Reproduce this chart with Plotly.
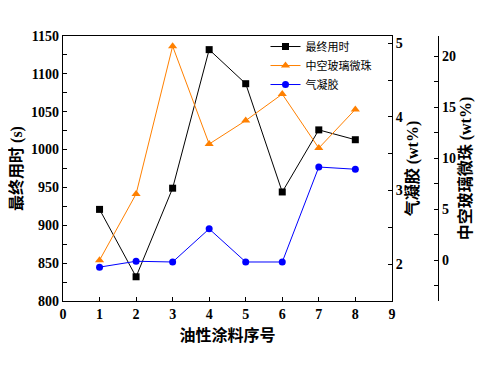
import plotly.graph_objects as go

x_idx = [1, 2, 3, 4, 5, 6, 7, 8]
final_time = [921, 832, 949, 1132, 1087, 944, 1026, 1013]
hollow_beads = [0.0, 6.5, 21.0, 11.4, 13.7, 16.3, 11.0, 14.8]
aerogel = [1.96, 2.04, 2.03, 2.48, 2.03, 2.03, 3.32, 3.29]

FONT = "Liberation Serif, Noto Sans CJK SC"
tickfont = dict(family="Liberation Serif", size=14, color="black", weight="bold")
titlefont = dict(family=FONT, size=16, color="black", weight="bold")

fig = go.Figure()
fig.add_trace(go.Scatter(x=x_idx, y=final_time, name="最终用时", mode="lines+markers",
                         line=dict(color="black", width=1),
                         marker=dict(symbol="square", size=7, color="black"), yaxis="y"))
fig.add_trace(go.Scatter(x=x_idx, y=hollow_beads, name="中空玻璃微珠", mode="lines+markers",
                         line=dict(color="#FF8000", width=1),
                         marker=dict(symbol="triangle-up", size=8, color="#FF8000"), yaxis="y3"))
fig.add_trace(go.Scatter(x=x_idx, y=aerogel, name="气凝胶", mode="lines+markers",
                         line=dict(color="#0000FF", width=1),
                         marker=dict(symbol="circle", size=7, color="#0000FF"), yaxis="y2"))

axcommon = dict(showline=True, linecolor="black", linewidth=1.3, showgrid=False, zeroline=False,
                ticks="inside", ticklen=4, tickwidth=1, tickcolor="black", tickfont=tickfont,
                automargin=False)

fig.update_layout(
    width=478, height=363,
    margin=dict(l=55, r=48, t=28, b=70),
    plot_bgcolor="white", paper_bgcolor="white",
    xaxis=dict(domain=[0, 0.877], range=[0, 9], dtick=1, mirror=True,
               title=dict(text="油性涂料序号", font=titlefont, standoff=8), **axcommon),
    yaxis=dict(range=[800, 1150], dtick=50,
               minor=dict(dtick=25, ticks="inside", ticklen=4, tickcolor="black"),
               title=dict(text="最终用时 (s)", font=titlefont, standoff=4), **axcommon),
    yaxis2=dict(overlaying="y", side="right", anchor="x", range=[1.5, 5.1],
                tickvals=[2, 3, 4, 5],
                minor=dict(tick0=1.5, dtick=0.5, ticks="inside", ticklen=4, tickcolor="black"),
                title=dict(text="气凝胶 (wt%)", font=titlefont, standoff=2), **axcommon),
    yaxis3=dict(overlaying="y", side="right", anchor="free", position=1.0, range=[-4, 22],
                tickvals=[0, 5, 10, 15, 20],
                minor=dict(tick0=0, dtick=2.5, ticks="inside", ticklen=4, tickcolor="black"),
                title=dict(text="中空玻璃微珠 (wt%)", font=titlefont, standoff=4), **axcommon),
    legend=dict(x=0.54, y=1.015, xanchor="left", yanchor="top",
                font=dict(family=FONT, size=11, color="black"),
                bgcolor="rgba(0,0,0,0)", tracegroupgap=0),
    showlegend=True,
)

fig.write_html("out.html")
